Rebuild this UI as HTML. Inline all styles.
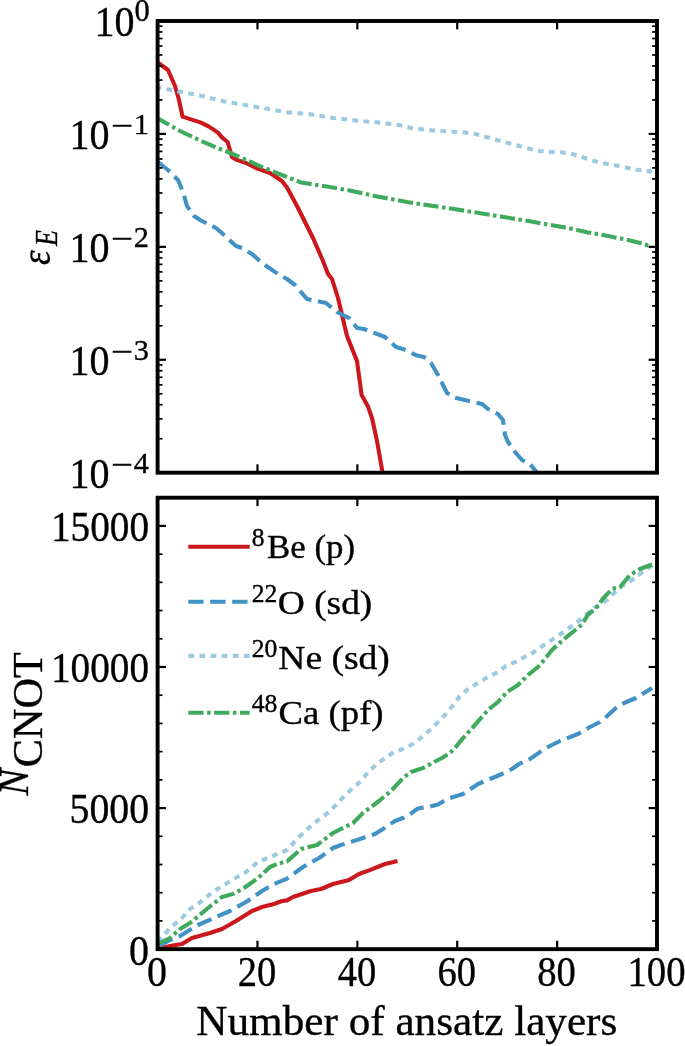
<!DOCTYPE html>
<html lang="en"><head><meta charset="utf-8"><title>Ansatz layers plot</title>
<style>html,body{margin:0;padding:0;background:#fff}body{width:685px;height:1046px;overflow:hidden}svg{display:block}text{font-family:"Liberation Serif",serif;fill:#000;stroke:#000;stroke-width:0.35px}</style>
</head><body>
<svg width="685" height="1046" viewBox="0 0 685 1046">
<rect width="685" height="1046" fill="#fff"/>
<defs><clipPath id="c1"><rect x="157.6" y="21.0" width="499.4" height="451.7"/></clipPath><clipPath id="c2"><rect x="157.6" y="497.7" width="499.4" height="451.4"/></clipPath></defs>
<g id="top-curves">
<path d="M158.0 62.6 L168.0 70.0 L175.0 86.0 L179.0 100.0 L182.5 116.6 L201.0 122.6 L209.0 126.6 L218.0 132.6 L222.0 137.4 L227.6 142.0 L230.0 150.0 L232.0 157.0 L236.0 159.6 L246.0 163.0 L256.0 168.0 L270.0 173.0 L282.0 181.0 L287.0 187.5 L297.0 206.0 L303.0 218.0 L313.0 238.0 L323.0 261.0 L328.0 274.0 L332.0 279.0 L338.0 298.0 L347.0 336.0 L357.0 361.0 L361.6 395.0 L368.0 406.5 L372.0 418.0 L377.0 441.0 L382.8 474.0" fill="none" stroke="#cb181d" stroke-width="4.10" stroke-linejoin="round" clip-path="url(#c1)"/>
<path d="M158.0 162.0 L168.0 170.0 L178.0 180.0 L183.0 192.0 L187.0 206.0 L194.0 216.0 L200.0 220.0 L216.0 228.0 L223.0 234.0 L236.0 246.0 L242.0 248.0 L252.0 254.0 L262.0 263.0 L278.0 274.0 L287.0 279.0 L295.0 285.0 L307.0 299.0 L326.0 303.0 L337.0 312.0 L349.0 318.0 L357.0 328.0 L364.0 329.0 L385.0 337.0 L396.0 347.0 L403.0 349.0 L417.0 355.6 L424.0 357.0 L431.0 363.0 L438.0 375.0 L447.0 393.0 L455.0 397.6 L482.0 404.0 L488.0 409.0 L498.0 414.0 L503.0 420.0 L505.0 435.0 L508.0 442.0 L515.0 452.0 L522.0 460.0 L530.0 464.0 L538.0 474.0" fill="none" stroke="#4292c6" stroke-width="4.10" stroke-linejoin="round" stroke-dasharray="15.3 6.65" clip-path="url(#c1)"/>
<path d="M158.0 87.4 L200.0 95.5 L224.0 101.4 L260.0 107.6 L287.0 112.2 L311.0 114.4 L333.0 118.0 L355.0 120.4 L377.0 122.4 L399.0 125.0 L411.0 128.0 L424.0 129.5 L432.0 130.4 L464.0 132.4 L476.0 134.0 L486.0 137.0 L508.0 143.0 L528.0 148.4 L540.0 151.0 L552.0 152.0 L562.0 152.4 L572.0 154.0 L582.0 157.0 L594.0 161.0 L602.0 163.0 L614.0 165.0 L636.0 169.6 L652.0 171.5" fill="none" stroke="#9ecae1" stroke-width="4.10" stroke-linejoin="round" stroke-dasharray="5.8 5.3" clip-path="url(#c1)" stroke-dashoffset="2.5"/>
<path d="M158.0 118.6 L180.0 131.0 L202.0 141.4 L216.0 147.4 L228.0 152.0 L244.0 159.0 L262.0 167.0 L287.0 177.0 L301.0 182.4 L317.0 185.0 L347.0 190.0 L377.0 196.4 L407.0 202.0 L424.0 204.6 L454.0 209.0 L494.0 215.4 L534.0 222.0 L548.0 224.6 L568.0 228.0 L588.0 232.4 L608.0 236.0 L628.0 240.0 L640.0 243.0 L652.0 246.5" fill="none" stroke="#41ab5d" stroke-width="4.10" stroke-linejoin="round" stroke-dasharray="15.3 3.5 3.5 3.5" clip-path="url(#c1)" stroke-dashoffset="2.6"/>
</g>
<g id="bottom-curves">
<path d="M158.0 949.0 L170.0 946.0 L182.0 944.0 L192.0 938.0 L210.0 933.0 L222.0 929.0 L236.0 921.0 L252.0 911.0 L262.0 907.0 L274.0 904.0 L282.0 901.0 L287.0 900.4 L293.0 897.0 L311.0 891.0 L321.0 889.0 L333.0 884.0 L349.0 880.0 L359.0 874.0 L371.0 869.6 L385.0 864.0 L397.5 861.0" fill="none" stroke="#cb181d" stroke-width="4.10" stroke-linejoin="round" clip-path="url(#c2)"/>
<path d="M158.0 946.5 L170.0 940.0 L180.0 936.0 L198.0 925.0 L214.0 918.0 L230.0 911.0 L246.0 902.0 L262.0 891.0 L274.0 884.0 L287.0 878.6 L303.0 867.0 L319.0 858.0 L333.0 848.0 L341.0 845.0 L363.0 838.0 L375.0 834.0 L383.0 829.0 L395.0 821.0 L403.0 818.0 L411.4 813.2 L417.3 808.8 L423.0 807.6 L430.0 806.6 L438.0 804.5 L443.0 801.5 L450.0 798.0 L463.0 794.0 L478.0 784.0 L490.0 779.0 L502.0 774.0 L512.0 769.0 L519.0 764.0 L530.0 759.0 L546.0 748.0 L560.0 741.0 L578.0 734.0 L590.0 727.0 L600.0 722.0 L606.0 717.0 L616.0 708.0 L624.0 703.0 L636.0 698.0 L644.0 693.0 L652.0 688.0" fill="none" stroke="#4292c6" stroke-width="4.10" stroke-linejoin="round" stroke-dasharray="15.3 6.65" clip-path="url(#c2)" stroke-dashoffset="-1"/>
<path d="M158.0 942.0 L170.0 928.0 L182.0 918.0 L190.0 909.0 L198.0 904.0 L214.0 891.0 L234.0 879.0 L246.0 872.0 L258.0 862.0 L270.0 857.0 L287.0 850.0 L299.0 837.0 L313.0 824.0 L329.0 812.0 L337.0 804.0 L345.0 795.0 L353.0 788.0 L361.0 781.0 L369.0 771.0 L377.0 764.0 L385.0 758.0 L394.0 752.0 L406.0 748.0 L416.0 742.0 L430.0 730.0 L446.0 714.0 L454.0 704.0 L460.0 696.0 L468.0 689.0 L478.0 683.0 L488.0 677.0 L498.0 672.0 L506.0 666.0 L516.0 661.6 L534.0 652.0 L544.0 645.0 L560.0 634.5 L572.0 626.0 L580.0 620.0 L588.0 613.0 L596.0 606.5 L607.0 600.0 L614.0 593.0 L622.0 586.0 L632.0 580.0 L640.0 574.0 L652.0 565.5" fill="none" stroke="#9ecae1" stroke-width="4.10" stroke-linejoin="round" stroke-dasharray="5.8 5.3" clip-path="url(#c2)"/>
<path d="M158.0 944.0 L170.0 938.0 L180.0 929.0 L190.0 923.0 L208.0 908.0 L222.0 897.0 L234.0 893.6 L244.0 888.0 L258.0 878.0 L270.0 867.0 L278.0 863.6 L287.0 861.4 L301.0 849.0 L317.0 845.0 L333.0 833.0 L353.0 823.0 L363.0 813.0 L379.0 801.0 L391.0 791.0 L403.0 778.0 L411.0 772.0 L424.0 767.6 L434.0 762.0 L442.0 758.0 L450.0 753.0 L456.0 746.8 L460.0 741.7 L463.2 738.0 L467.6 733.0 L474.0 726.0 L488.0 710.0 L498.0 702.0 L507.0 692.0 L518.0 685.0 L528.0 675.0 L538.0 667.0 L544.0 660.0 L552.0 650.0 L564.0 639.0 L574.0 631.0 L582.0 624.5 L588.0 614.5 L596.0 608.5 L603.0 598.5 L612.0 589.0 L620.0 587.0 L630.0 575.0 L640.0 569.0 L652.0 564.5" fill="none" stroke="#41ab5d" stroke-width="4.10" stroke-linejoin="round" stroke-dasharray="15.3 3.5 3.5 3.5" clip-path="url(#c2)"/>
</g>
<g id="ticks">
<line x1="257.48" y1="21.00" x2="257.48" y2="29.40" stroke="#000" stroke-width="2.20"/>
<line x1="257.48" y1="472.70" x2="257.48" y2="464.30" stroke="#000" stroke-width="2.20"/>
<line x1="257.48" y1="497.70" x2="257.48" y2="506.10" stroke="#000" stroke-width="2.20"/>
<line x1="257.48" y1="949.15" x2="257.48" y2="940.75" stroke="#000" stroke-width="2.20"/>
<line x1="357.36" y1="21.00" x2="357.36" y2="29.40" stroke="#000" stroke-width="2.20"/>
<line x1="357.36" y1="472.70" x2="357.36" y2="464.30" stroke="#000" stroke-width="2.20"/>
<line x1="357.36" y1="497.70" x2="357.36" y2="506.10" stroke="#000" stroke-width="2.20"/>
<line x1="357.36" y1="949.15" x2="357.36" y2="940.75" stroke="#000" stroke-width="2.20"/>
<line x1="457.24" y1="21.00" x2="457.24" y2="29.40" stroke="#000" stroke-width="2.20"/>
<line x1="457.24" y1="472.70" x2="457.24" y2="464.30" stroke="#000" stroke-width="2.20"/>
<line x1="457.24" y1="497.70" x2="457.24" y2="506.10" stroke="#000" stroke-width="2.20"/>
<line x1="457.24" y1="949.15" x2="457.24" y2="940.75" stroke="#000" stroke-width="2.20"/>
<line x1="557.12" y1="21.00" x2="557.12" y2="29.40" stroke="#000" stroke-width="2.20"/>
<line x1="557.12" y1="472.70" x2="557.12" y2="464.30" stroke="#000" stroke-width="2.20"/>
<line x1="557.12" y1="497.70" x2="557.12" y2="506.10" stroke="#000" stroke-width="2.20"/>
<line x1="557.12" y1="949.15" x2="557.12" y2="940.75" stroke="#000" stroke-width="2.20"/>
<line x1="157.60" y1="99.93" x2="162.50" y2="99.93" stroke="#000" stroke-width="1.70"/>
<line x1="657.00" y1="99.93" x2="652.10" y2="99.93" stroke="#000" stroke-width="1.70"/>
<line x1="157.60" y1="80.05" x2="162.50" y2="80.05" stroke="#000" stroke-width="1.70"/>
<line x1="657.00" y1="80.05" x2="652.10" y2="80.05" stroke="#000" stroke-width="1.70"/>
<line x1="157.60" y1="65.94" x2="162.50" y2="65.94" stroke="#000" stroke-width="1.70"/>
<line x1="657.00" y1="65.94" x2="652.10" y2="65.94" stroke="#000" stroke-width="1.70"/>
<line x1="157.60" y1="54.99" x2="162.50" y2="54.99" stroke="#000" stroke-width="1.70"/>
<line x1="657.00" y1="54.99" x2="652.10" y2="54.99" stroke="#000" stroke-width="1.70"/>
<line x1="157.60" y1="46.05" x2="162.50" y2="46.05" stroke="#000" stroke-width="1.70"/>
<line x1="657.00" y1="46.05" x2="652.10" y2="46.05" stroke="#000" stroke-width="1.70"/>
<line x1="157.60" y1="38.49" x2="162.50" y2="38.49" stroke="#000" stroke-width="1.70"/>
<line x1="657.00" y1="38.49" x2="652.10" y2="38.49" stroke="#000" stroke-width="1.70"/>
<line x1="157.60" y1="31.94" x2="162.50" y2="31.94" stroke="#000" stroke-width="1.70"/>
<line x1="657.00" y1="31.94" x2="652.10" y2="31.94" stroke="#000" stroke-width="1.70"/>
<line x1="157.60" y1="26.17" x2="162.50" y2="26.17" stroke="#000" stroke-width="1.70"/>
<line x1="657.00" y1="26.17" x2="652.10" y2="26.17" stroke="#000" stroke-width="1.70"/>
<line x1="157.60" y1="133.93" x2="166.00" y2="133.93" stroke="#000" stroke-width="2.20"/>
<line x1="657.00" y1="133.93" x2="648.60" y2="133.93" stroke="#000" stroke-width="2.20"/>
<line x1="157.60" y1="212.86" x2="162.50" y2="212.86" stroke="#000" stroke-width="1.70"/>
<line x1="657.00" y1="212.86" x2="652.10" y2="212.86" stroke="#000" stroke-width="1.70"/>
<line x1="157.60" y1="192.97" x2="162.50" y2="192.97" stroke="#000" stroke-width="1.70"/>
<line x1="657.00" y1="192.97" x2="652.10" y2="192.97" stroke="#000" stroke-width="1.70"/>
<line x1="157.60" y1="178.86" x2="162.50" y2="178.86" stroke="#000" stroke-width="1.70"/>
<line x1="657.00" y1="178.86" x2="652.10" y2="178.86" stroke="#000" stroke-width="1.70"/>
<line x1="157.60" y1="167.92" x2="162.50" y2="167.92" stroke="#000" stroke-width="1.70"/>
<line x1="657.00" y1="167.92" x2="652.10" y2="167.92" stroke="#000" stroke-width="1.70"/>
<line x1="157.60" y1="158.98" x2="162.50" y2="158.98" stroke="#000" stroke-width="1.70"/>
<line x1="657.00" y1="158.98" x2="652.10" y2="158.98" stroke="#000" stroke-width="1.70"/>
<line x1="157.60" y1="151.42" x2="162.50" y2="151.42" stroke="#000" stroke-width="1.70"/>
<line x1="657.00" y1="151.42" x2="652.10" y2="151.42" stroke="#000" stroke-width="1.70"/>
<line x1="157.60" y1="144.87" x2="162.50" y2="144.87" stroke="#000" stroke-width="1.70"/>
<line x1="657.00" y1="144.87" x2="652.10" y2="144.87" stroke="#000" stroke-width="1.70"/>
<line x1="157.60" y1="139.09" x2="162.50" y2="139.09" stroke="#000" stroke-width="1.70"/>
<line x1="657.00" y1="139.09" x2="652.10" y2="139.09" stroke="#000" stroke-width="1.70"/>
<line x1="157.60" y1="246.85" x2="166.00" y2="246.85" stroke="#000" stroke-width="2.20"/>
<line x1="657.00" y1="246.85" x2="648.60" y2="246.85" stroke="#000" stroke-width="2.20"/>
<line x1="157.60" y1="325.78" x2="162.50" y2="325.78" stroke="#000" stroke-width="1.70"/>
<line x1="657.00" y1="325.78" x2="652.10" y2="325.78" stroke="#000" stroke-width="1.70"/>
<line x1="157.60" y1="305.90" x2="162.50" y2="305.90" stroke="#000" stroke-width="1.70"/>
<line x1="657.00" y1="305.90" x2="652.10" y2="305.90" stroke="#000" stroke-width="1.70"/>
<line x1="157.60" y1="291.79" x2="162.50" y2="291.79" stroke="#000" stroke-width="1.70"/>
<line x1="657.00" y1="291.79" x2="652.10" y2="291.79" stroke="#000" stroke-width="1.70"/>
<line x1="157.60" y1="280.84" x2="162.50" y2="280.84" stroke="#000" stroke-width="1.70"/>
<line x1="657.00" y1="280.84" x2="652.10" y2="280.84" stroke="#000" stroke-width="1.70"/>
<line x1="157.60" y1="271.90" x2="162.50" y2="271.90" stroke="#000" stroke-width="1.70"/>
<line x1="657.00" y1="271.90" x2="652.10" y2="271.90" stroke="#000" stroke-width="1.70"/>
<line x1="157.60" y1="264.34" x2="162.50" y2="264.34" stroke="#000" stroke-width="1.70"/>
<line x1="657.00" y1="264.34" x2="652.10" y2="264.34" stroke="#000" stroke-width="1.70"/>
<line x1="157.60" y1="257.79" x2="162.50" y2="257.79" stroke="#000" stroke-width="1.70"/>
<line x1="657.00" y1="257.79" x2="652.10" y2="257.79" stroke="#000" stroke-width="1.70"/>
<line x1="157.60" y1="252.02" x2="162.50" y2="252.02" stroke="#000" stroke-width="1.70"/>
<line x1="657.00" y1="252.02" x2="652.10" y2="252.02" stroke="#000" stroke-width="1.70"/>
<line x1="157.60" y1="359.77" x2="166.00" y2="359.77" stroke="#000" stroke-width="2.20"/>
<line x1="657.00" y1="359.77" x2="648.60" y2="359.77" stroke="#000" stroke-width="2.20"/>
<line x1="157.60" y1="438.71" x2="162.50" y2="438.71" stroke="#000" stroke-width="1.70"/>
<line x1="657.00" y1="438.71" x2="652.10" y2="438.71" stroke="#000" stroke-width="1.70"/>
<line x1="157.60" y1="418.82" x2="162.50" y2="418.82" stroke="#000" stroke-width="1.70"/>
<line x1="657.00" y1="418.82" x2="652.10" y2="418.82" stroke="#000" stroke-width="1.70"/>
<line x1="157.60" y1="404.71" x2="162.50" y2="404.71" stroke="#000" stroke-width="1.70"/>
<line x1="657.00" y1="404.71" x2="652.10" y2="404.71" stroke="#000" stroke-width="1.70"/>
<line x1="157.60" y1="393.77" x2="162.50" y2="393.77" stroke="#000" stroke-width="1.70"/>
<line x1="657.00" y1="393.77" x2="652.10" y2="393.77" stroke="#000" stroke-width="1.70"/>
<line x1="157.60" y1="384.83" x2="162.50" y2="384.83" stroke="#000" stroke-width="1.70"/>
<line x1="657.00" y1="384.83" x2="652.10" y2="384.83" stroke="#000" stroke-width="1.70"/>
<line x1="157.60" y1="377.27" x2="162.50" y2="377.27" stroke="#000" stroke-width="1.70"/>
<line x1="657.00" y1="377.27" x2="652.10" y2="377.27" stroke="#000" stroke-width="1.70"/>
<line x1="157.60" y1="370.72" x2="162.50" y2="370.72" stroke="#000" stroke-width="1.70"/>
<line x1="657.00" y1="370.72" x2="652.10" y2="370.72" stroke="#000" stroke-width="1.70"/>
<line x1="157.60" y1="364.94" x2="162.50" y2="364.94" stroke="#000" stroke-width="1.70"/>
<line x1="657.00" y1="364.94" x2="652.10" y2="364.94" stroke="#000" stroke-width="1.70"/>
<line x1="157.60" y1="920.93" x2="162.50" y2="920.93" stroke="#000" stroke-width="1.70"/>
<line x1="657.00" y1="920.93" x2="652.10" y2="920.93" stroke="#000" stroke-width="1.70"/>
<line x1="157.60" y1="892.72" x2="162.50" y2="892.72" stroke="#000" stroke-width="1.70"/>
<line x1="657.00" y1="892.72" x2="652.10" y2="892.72" stroke="#000" stroke-width="1.70"/>
<line x1="157.60" y1="864.50" x2="162.50" y2="864.50" stroke="#000" stroke-width="1.70"/>
<line x1="657.00" y1="864.50" x2="652.10" y2="864.50" stroke="#000" stroke-width="1.70"/>
<line x1="157.60" y1="836.29" x2="162.50" y2="836.29" stroke="#000" stroke-width="1.70"/>
<line x1="657.00" y1="836.29" x2="652.10" y2="836.29" stroke="#000" stroke-width="1.70"/>
<line x1="157.60" y1="808.07" x2="166.00" y2="808.07" stroke="#000" stroke-width="2.20"/>
<line x1="657.00" y1="808.07" x2="648.60" y2="808.07" stroke="#000" stroke-width="2.20"/>
<line x1="157.60" y1="779.86" x2="162.50" y2="779.86" stroke="#000" stroke-width="1.70"/>
<line x1="657.00" y1="779.86" x2="652.10" y2="779.86" stroke="#000" stroke-width="1.70"/>
<line x1="157.60" y1="751.64" x2="162.50" y2="751.64" stroke="#000" stroke-width="1.70"/>
<line x1="657.00" y1="751.64" x2="652.10" y2="751.64" stroke="#000" stroke-width="1.70"/>
<line x1="157.60" y1="723.42" x2="162.50" y2="723.42" stroke="#000" stroke-width="1.70"/>
<line x1="657.00" y1="723.42" x2="652.10" y2="723.42" stroke="#000" stroke-width="1.70"/>
<line x1="157.60" y1="695.21" x2="162.50" y2="695.21" stroke="#000" stroke-width="1.70"/>
<line x1="657.00" y1="695.21" x2="652.10" y2="695.21" stroke="#000" stroke-width="1.70"/>
<line x1="157.60" y1="666.99" x2="166.00" y2="666.99" stroke="#000" stroke-width="2.20"/>
<line x1="657.00" y1="666.99" x2="648.60" y2="666.99" stroke="#000" stroke-width="2.20"/>
<line x1="157.60" y1="638.78" x2="162.50" y2="638.78" stroke="#000" stroke-width="1.70"/>
<line x1="657.00" y1="638.78" x2="652.10" y2="638.78" stroke="#000" stroke-width="1.70"/>
<line x1="157.60" y1="610.56" x2="162.50" y2="610.56" stroke="#000" stroke-width="1.70"/>
<line x1="657.00" y1="610.56" x2="652.10" y2="610.56" stroke="#000" stroke-width="1.70"/>
<line x1="157.60" y1="582.35" x2="162.50" y2="582.35" stroke="#000" stroke-width="1.70"/>
<line x1="657.00" y1="582.35" x2="652.10" y2="582.35" stroke="#000" stroke-width="1.70"/>
<line x1="157.60" y1="554.13" x2="162.50" y2="554.13" stroke="#000" stroke-width="1.70"/>
<line x1="657.00" y1="554.13" x2="652.10" y2="554.13" stroke="#000" stroke-width="1.70"/>
<line x1="157.60" y1="525.92" x2="166.00" y2="525.92" stroke="#000" stroke-width="2.20"/>
<line x1="657.00" y1="525.92" x2="648.60" y2="525.92" stroke="#000" stroke-width="2.20"/>
</g>
<rect x="157.60" y="21.00" width="499.40" height="451.70" fill="none" stroke="#000" stroke-width="3.90"/>
<rect x="157.60" y="497.70" width="499.40" height="451.45" fill="none" stroke="#000" stroke-width="3.90"/>
<g id="ylabels-top" font-size="41.3">
<text x="94.5" y="36.4" font-size="41.8"><tspan textLength="40" lengthAdjust="spacingAndGlyphs">10</tspan><tspan font-size="30.5" dy="-15">0</tspan></text>
<text x="69.5" y="149.0" font-size="41.6"><tspan textLength="40" lengthAdjust="spacingAndGlyphs">10</tspan><tspan font-size="30.3" dy="-13.2" dx="1.3" textLength="22" lengthAdjust="spacingAndGlyphs">−</tspan><tspan font-size="30.3" dx="0.9" dy="-1.7">1</tspan></text>
<text x="69.5" y="261.9" font-size="41.6"><tspan textLength="40" lengthAdjust="spacingAndGlyphs">10</tspan><tspan font-size="30.3" dy="-13.2" dx="1.3" textLength="22" lengthAdjust="spacingAndGlyphs">−</tspan><tspan font-size="30.3" dx="0.9" dy="-1.7">2</tspan></text>
<text x="69.5" y="374.9" font-size="41.6"><tspan textLength="40" lengthAdjust="spacingAndGlyphs">10</tspan><tspan font-size="30.3" dy="-13.2" dx="1.3" textLength="22" lengthAdjust="spacingAndGlyphs">−</tspan><tspan font-size="30.3" dx="0.9" dy="-1.7">3</tspan></text>
<text x="69.5" y="487.8" font-size="41.6"><tspan textLength="40" lengthAdjust="spacingAndGlyphs">10</tspan><tspan font-size="30.3" dy="-13.2" dx="1.3" textLength="22" lengthAdjust="spacingAndGlyphs">−</tspan><tspan font-size="30.3" dx="0.9" dy="-1.7">4</tspan></text>
</g>
<g id="ylabels-bottom" font-size="41.3" text-anchor="end">
<text x="149.0" y="964.5" textLength="20.0" lengthAdjust="spacingAndGlyphs">0</text>
<text x="149.0" y="823.4" textLength="79.5" lengthAdjust="spacingAndGlyphs">5000</text>
<text x="149.0" y="682.3" textLength="98.0" lengthAdjust="spacingAndGlyphs">10000</text>
<text x="149.0" y="541.2" textLength="98.0" lengthAdjust="spacingAndGlyphs">15000</text>
</g>
<g id="xlabels" font-size="41.3" text-anchor="middle">
<text x="157.1" y="985.8" textLength="20.0" lengthAdjust="spacingAndGlyphs">0</text>
<text x="257.0" y="985.8" textLength="38.5" lengthAdjust="spacingAndGlyphs">20</text>
<text x="356.9" y="985.8" textLength="38.5" lengthAdjust="spacingAndGlyphs">40</text>
<text x="456.7" y="985.8" textLength="38.5" lengthAdjust="spacingAndGlyphs">60</text>
<text x="556.6" y="985.8" textLength="38.5" lengthAdjust="spacingAndGlyphs">80</text>
<text x="656.5" y="985.8" textLength="58.0" lengthAdjust="spacingAndGlyphs">100</text>
</g>
<text id="xlabel" x="406.8" y="1034.8" font-size="42" text-anchor="middle" textLength="421" lengthAdjust="spacingAndGlyphs">Number of ansatz layers</text>
<g transform="translate(49.9,265) rotate(-90)"><text font-size="42.5" font-style="italic" x="0" y="0" textLength="14.5" lengthAdjust="spacingAndGlyphs">ε</text><text font-size="31" font-style="italic" x="19" y="7" textLength="16" lengthAdjust="spacingAndGlyphs">E</text></g>
<g transform="translate(27.7,795.4) rotate(-90)"><text font-size="42.3" x="0" y="0"><tspan font-style="italic" textLength="26.7" lengthAdjust="spacingAndGlyphs">N</tspan><tspan dy="14.3" dx="1.5" textLength="115" lengthAdjust="spacingAndGlyphs">CNOT</tspan></text></g>
<g id="legend">
<line x1="188.3" y1="546.7" x2="249.7" y2="546.7" stroke="#cb181d" stroke-width="4.10"/>
<text x="251.8" y="546.3" font-size="25.6">8</text>
<text x="267.0" y="558.2" font-size="33.2" textLength="88.0" lengthAdjust="spacingAndGlyphs">Be (p)</text>
<line x1="188.3" y1="601.7" x2="249.7" y2="601.7" stroke="#4292c6" stroke-width="4.10" stroke-dasharray="15.3 6.65"/>
<text x="251.8" y="601.8" font-size="25.6">22</text>
<text x="277.8" y="613.7" font-size="33.2" textLength="94.5" lengthAdjust="spacingAndGlyphs">O (sd)</text>
<line x1="188.3" y1="655.9" x2="249.7" y2="655.9" stroke="#9ecae1" stroke-width="4.10" stroke-dasharray="5.8 5.3"/>
<text x="251.8" y="657.0" font-size="25.6">20</text>
<text x="278.3" y="668.9" font-size="33.2" textLength="111.5" lengthAdjust="spacingAndGlyphs">Ne (sd)</text>
<line x1="188.3" y1="712.7" x2="249.7" y2="712.7" stroke="#41ab5d" stroke-width="4.10" stroke-dasharray="15.3 3.5 3.5 3.5"/>
<text x="251.8" y="711.8" font-size="25.6">48</text>
<text x="278.6" y="723.7" font-size="33.2" textLength="105.0" lengthAdjust="spacingAndGlyphs">Ca (pf)</text>
</g>
</svg></body></html>
